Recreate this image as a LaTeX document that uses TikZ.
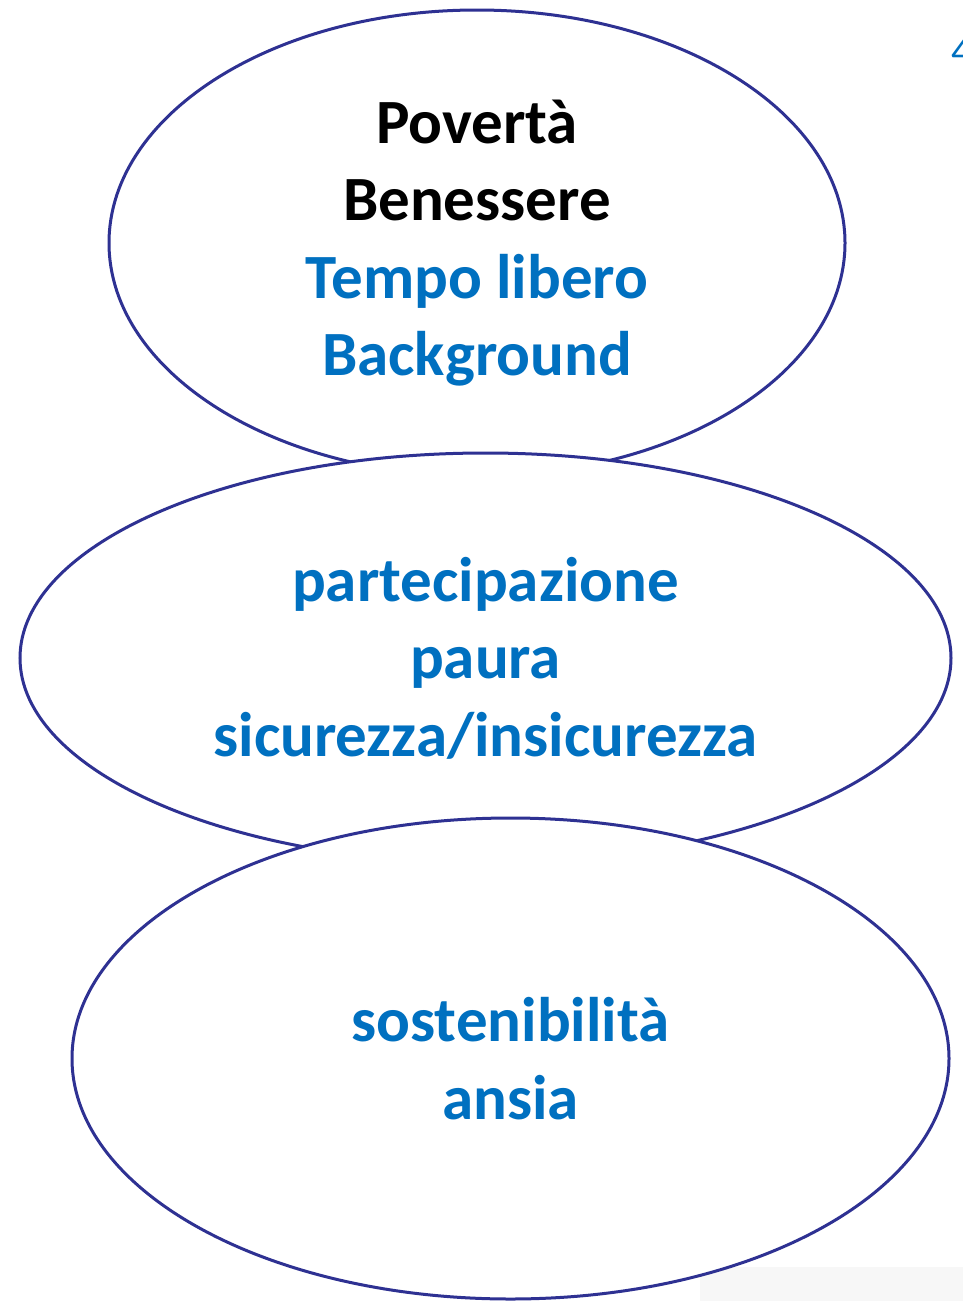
\documentclass[tikz,border=0pt]{standalone}
\usepackage{fontspec}
\setmainfont{Carlito}
\usetikzlibrary{shapes.geometric}
\definecolor{ringblue}{RGB}{46,49,146}
\definecolor{wordblue}{RGB}{0,112,192}
\begin{document}
\begin{tikzpicture}[x=1pt,y=-1pt,
  bubble/.style={ellipse, draw=ringblue, line width=3pt, fill=white, inner sep=0pt,
    align=center, text=wordblue, font=\bfseries\fontsize{63}{77.5}\selectfont}]
\useasboundingbox (0,0) rectangle (963,1301);
\fill[black!3] (700,1267) rectangle (963,1301);
\node[text=wordblue, anchor=base west, inner sep=0pt, font=\fontsize{40}{48}\selectfont] (pagenum) at (951,64) {4};

% three bubbles, each drawn over the one before
\node[bubble, minimum width=736pt, minimum height=466pt] (povert) at (477,243)
  {{\color{black}Povertà}\\{\color{black}Benessere}\\Tempo libero\\Background};
\node[bubble, minimum width=931pt, minimum height=410pt] (paura) at (485.5,658)
  {partecipazione\\paura\\sicurezza/insicurezza};
\node[bubble, minimum width=877pt, minimum height=481pt] (ansia) at (510.5,1058.5)
  {sostenibilità\\ansia};
\end{tikzpicture}
\end{document}
